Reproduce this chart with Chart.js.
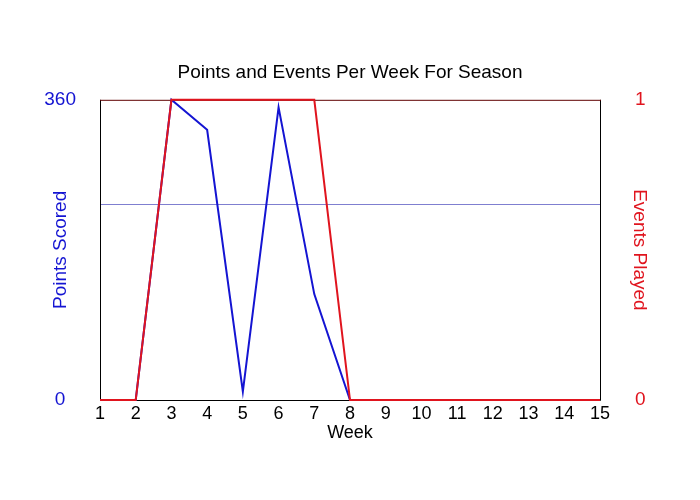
<!DOCTYPE html>
<html>
<head>
<meta charset="utf-8">
<script src="https://cdn.jsdelivr.net/npm/chart.js@4"></script>
<style>
  html, body { margin: 0; padding: 0; background: #fff; }
  #wrap { width: 700px; height: 500px; }
</style>
</head>
<body>
<div id="wrap"><canvas id="chart" width="700" height="500"></canvas></div>
<script>
// data
const weeks = ['1','2','3','4','5','6','7','8','9','10','11','12','13','14','15'];
const pointsScored = [0, 0, 360, 324, 10, 351, 127, 0, 0, 0, 0, 0, 0, 0, 0];
const eventsPlayed = [0, 0, 1, 1, 1, 1, 1, 0, 0, 0, 0, 0, 0, 0, 0];
const pointsTicks = [0, 234, 360];   // 234 only carries the grid line
const eventsTicks = [0, 1];

const FONT = 'Liberation Sans, Arial, sans-serif';
const BLUE = '#1414d2';
const RED = '#e0141e';

// frame round the plot (top edge is dark red in the original)
const framePlugin = {
    id: 'frame',
    beforeDatasetsDraw(chart) {
        const { ctx, chartArea: a } = chart;
        ctx.save();
        ctx.lineWidth = 1;
        ctx.strokeStyle = '#000';
        ctx.beginPath();
        ctx.moveTo(a.left + 0.5, a.top);
        ctx.lineTo(a.left + 0.5, a.bottom + 0.5);
        ctx.lineTo(a.right + 0.5, a.bottom + 0.5);
        ctx.lineTo(a.right + 0.5, a.top);
        ctx.stroke();
        ctx.strokeStyle = '#600000';
        ctx.beginPath();
        ctx.moveTo(a.left, a.top + 0.5);
        ctx.lineTo(a.right + 1, a.top + 0.5);
        ctx.stroke();
        ctx.restore();
    }
};

new Chart(document.getElementById('chart'), {
    type: 'line',
    data: {
        labels: weeks,
        datasets: [{
            label: 'Events Played',
            data: eventsPlayed,
            yAxisID: 'yEvents',
            borderColor: RED,
            borderWidth: 2,
            pointRadius: 0,
            tension: 0,
            clip: false
        }, {
            label: 'Points Scored',
            data: pointsScored,
            yAxisID: 'yPoints',
            borderColor: BLUE,
            borderWidth: 2,
            pointRadius: 0,
            tension: 0,
            clip: false
        }]
    },
    options: {
        responsive: false,
        animation: false,
        devicePixelRatio: 1,
        layout: { padding: 0 },
        plugins: {
            legend: { display: false },
            tooltip: { enabled: false },
            title: {
                display: true,
                text: 'Points and Events Per Week For Season',
                color: '#000',
                font: { family: FONT, size: 19, weight: 'normal' },
                padding: { top: 61, bottom: 16 }
            }
        },
        scales: {
            x: {
                offset: false,
                grid: { display: false, drawTicks: false },
                border: { display: false },
                ticks: {
                    color: '#000',
                    font: { family: FONT, size: 18 },
                    padding: 3,
                    maxRotation: 0,
                    autoSkip: false
                },
                title: {
                    display: true,
                    text: 'Week',
                    color: '#000',
                    font: { family: FONT, size: 18 },
                    padding: { top: 0, bottom: 56 }
                },
                afterFit(s) { s.height = 100; }
            },
            yPoints: {
                position: 'left',
                min: 0,
                max: 360,
                afterBuildTicks(s) { s.ticks = pointsTicks.map(v => ({ value: v })); },
                grid: {
                    drawTicks: false,
                    color: c => (c.tick && c.tick.value === 234) ? '#7f7fd0' : 'rgba(0,0,0,0)'
                },
                border: { display: false },
                ticks: {
                    color: BLUE,
                    font: { family: FONT, size: 19 },
                    crossAlign: 'center',
                    padding: 24,
                    callback: v => (v === 234 ? '' : v)
                },
                title: {
                    display: true,
                    text: 'Points Scored',
                    color: BLUE,
                    font: { family: FONT, size: 19 },
                    padding: { top: 49, bottom: 0 }
                },
                afterFit(s) { s.width = 100; }
            },
            yEvents: {
                position: 'right',
                min: 0,
                max: 1,
                afterBuildTicks(s) { s.ticks = eventsTicks.map(v => ({ value: v })); },
                grid: { display: false, drawTicks: false },
                border: { display: false },
                ticks: {
                    color: RED,
                    font: { family: FONT, size: 19 },
                    crossAlign: 'center',
                    padding: 35
                },
                title: {
                    display: true,
                    text: 'Events Played',
                    color: RED,
                    font: { family: FONT, size: 19 },
                    padding: { top: 49, bottom: 0 }
                },
                afterFit(s) { s.width = 100; }
            }
        }
    },
    plugins: [framePlugin]
});
</script>
</body>
</html>
